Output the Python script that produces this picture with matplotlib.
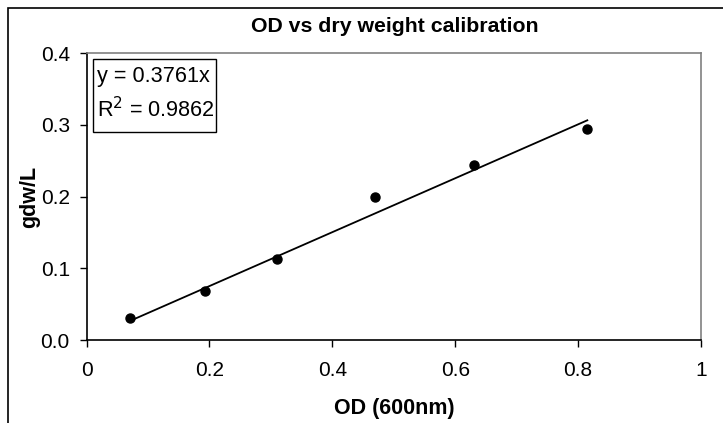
import matplotlib
matplotlib.use("Agg")
import matplotlib.pyplot as plt
import numpy as np
from matplotlib.patches import Rectangle

od = [0.070, 0.1935, 0.310, 0.469, 0.631, 0.815]
gdw = [0.030, 0.068, 0.1125, 0.200, 0.244, 0.295]
slope = 0.3761
r2 = 0.9862
xticks = [0, 0.2, 0.4, 0.6, 0.8, 1]
xticklabels = ["0", "0.2", "0.4", "0.6", "0.8", "1"]
yticks = [0.0, 0.1, 0.2, 0.3, 0.4]
yticklabels = ["0.0", "0.1", "0.2", "0.3", "0.4"]

plt.rcParams['font.family'] = ['Liberation Sans', 'DejaVu Sans']

W, H = 723, 423
fig = plt.figure(figsize=(W/100, H/100), dpi=100)
ax = fig.add_axes([86.5/W, 83/H, (701-86.5)/W, (340-53.3)/H])

xfit = np.array([min(od), max(od)])
ax.plot(xfit, slope*xfit, color='black', lw=1.3, zorder=2)
ax.plot(od, gdw, 'o', color='black', markersize=6.5, zorder=3)

ax.set_xlim(0, 1)
ax.set_ylim(0, 0.4)
ax.set_xticks(xticks)
ax.set_xticklabels(xticklabels)
ax.set_yticks(yticks)
ax.set_yticklabels(yticklabels)
ax.tick_params(direction='out', length=5, width=1, labelsize=15, colors='black')
ax.tick_params(axis='x', pad=10)
ax.tick_params(axis='y', pad=7)
for s in ['left', 'bottom']:
    ax.spines[s].set_color('black')
    ax.spines[s].set_linewidth(1.2)
for s in ['top', 'right']:
    ax.spines[s].set_color('#808080')
    ax.spines[s].set_linewidth(1.2)

fig.text(395/W, 1 - 26/H, "OD vs dry weight calibration", fontsize=15.3, fontweight='bold',
         ha='center', va='center')
fig.text(394/W, 1 - 408/H, "OD (600nm)", fontsize=15.5, fontweight='bold',
         ha='center', va='center')
fig.text(30/W, 1 - 197/H, "gdw/L", fontsize=15.5, fontweight='bold',
         ha='center', va='center', rotation=90)

fig.patches.append(Rectangle((93.3/W, 1 - 132/H), (216-93.3)/W, (132-59.3)/H,
                             transform=fig.transFigure, facecolor='white',
                             edgecolor='black', linewidth=1, zorder=4))
fig.text(97/W, 1 - 66/H, "y = 0.3761x\nR$^2$ = 0.9862",
         fontsize=15.6, va='top', ha='left', linespacing=1.5, zorder=6)

fig.patches.append(Rectangle((8/W, -0.1), 2, 1.1 - 8/H, transform=fig.transFigure,
                             fill=False, edgecolor='black', linewidth=1.2))

fig.savefig("out.png", dpi=100)
